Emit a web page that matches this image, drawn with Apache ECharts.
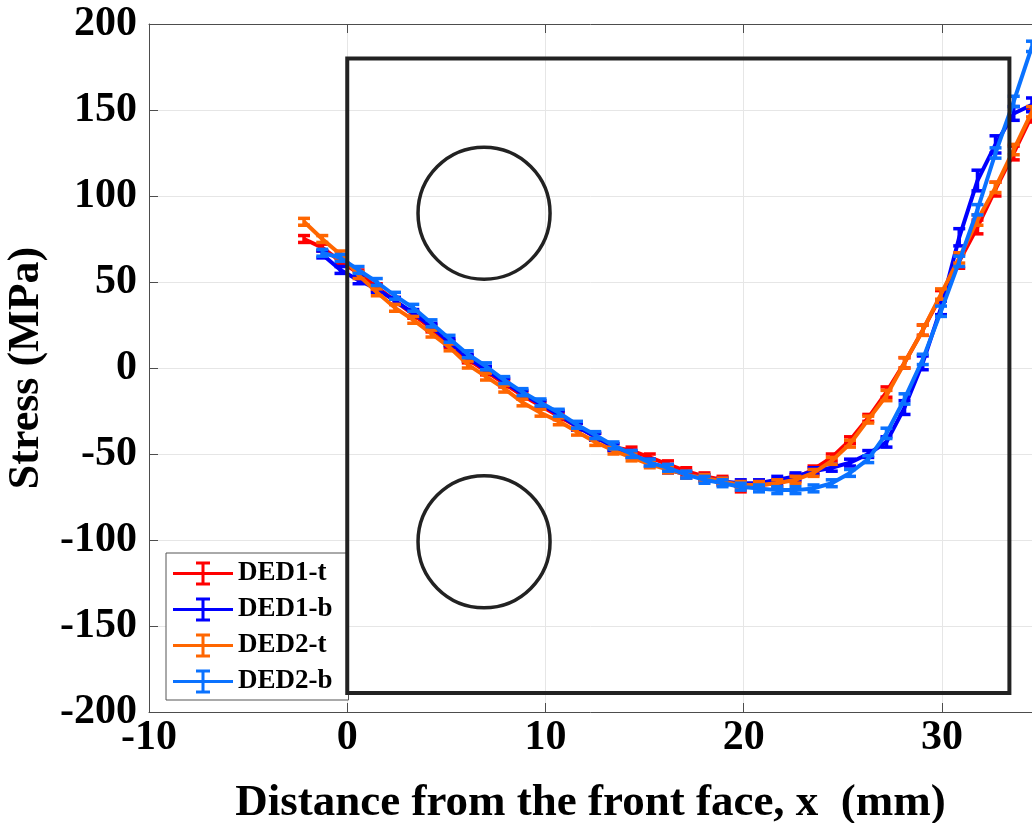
<!DOCTYPE html>
<html>
<head>
<meta charset="utf-8">
<script src="https://cdn.jsdelivr.net/npm/echarts@6/dist/echarts.min.js"></script>
<style>
  html, body { margin: 0; padding: 0; background: #fff; }
  #chart { width: 1032px; height: 823px; }
</style>
</head>
<body>
<div id="chart"></div>
<script>
// measurement positions along x (mm)
const xPos = [-2.18, -1.26, -0.34, 0.57, 1.49, 2.41, 3.33, 4.25, 5.16, 6.08,
  7.00, 7.92, 8.84, 9.75, 10.67, 11.59, 12.51, 13.43, 14.34, 15.26,
  16.18, 17.10, 18.02, 18.93, 19.85, 20.77, 21.69, 22.61, 23.52, 24.44,
  25.36, 26.28, 27.20, 28.11, 29.03, 29.95, 30.87, 31.79, 32.70, 33.62, 34.54];

// DED1-t and DED2-t start at the first position, the -b runs at the second
const ded1t = [75, 70, 62, 55, 47, 39, 31, 23, 14, 5, -2, -9, -16, -22, -28, -34, -40, -46, -48, -52,
  -56, -60, -63, -65, -70, -68, -67, -64, -59, -52, -42, -29, -14, 3, 22, 42, 62, 82, 104, 125, 147];
const ded1b = [66, 57, 51, 46, 39, 32, 24, 15, 6, -1, -8, -15, -21, -27, -34, -40, -46, -50, -55,
  -59, -62, -64, -66, -67, -67, -65, -63, -60, -58, -55, -50, -43, -23, 3, 35, 76, 109, 130, 148, 153];
const ded2t = [85, 75, 66, 54, 44, 35, 28, 20, 12, 2, -5, -12, -20, -26, -31, -37, -43, -48, -52, -56,
  -59, -62, -64, -66, -68, -68, -67, -65, -61, -54, -44, -30, -16, 3, 22, 43, 64, 86, 105, 127, 149];
const ded2b = [67, 64, 57, 50, 42, 35, 26, 17, 8, 1, -7, -14, -20, -26, -33, -39, -45, -50, -55,
  -58, -62, -65, -67, -69, -70, -71, -71, -70, -67, -61, -53, -38, -18, 5, 33, 62, 92, 125, 155, 187];

// error bar half-heights (MPa)
const err1t = [2, 2, 2, 2, 2, 2, 2, 2, 2, 2, 2, 2, 2, 2, 2, 2, 2, 2, 2, 2,
  2, 2, 2, 2, 2, 2, 2, 2, 2, 2, 2, 2, 3, 3, 3, 3, 4, 4, 4, 4, 4];
const err1b = [2, 2, 2, 2, 2, 2, 2, 2, 2, 2, 2, 2, 2, 2, 2, 2, 2, 2, 2,
  2, 2, 2, 2, 2, 2, 2, 2, 2, 2, 2, 2, 3, 4, 4, 4, 5, 6, 5, 4, 4];
const err2t = [2, 2, 2, 2, 2, 2, 2, 2, 2, 2, 2, 2, 2, 2, 2, 2, 2, 2, 2, 2,
  2, 2, 2, 2, 2, 2, 2, 2, 2, 2, 2, 2, 3, 3, 3, 3, 3, 3, 3, 3, 3];
const err2b = [2, 2, 2, 2, 2, 2, 2, 2, 2, 2, 2, 2, 2, 2, 2, 2, 2, 2, 2,
  2, 2, 2, 2, 2, 2, 2, 2, 2, 2, 2, 2, 3, 3, 3, 3, 3, 3, 3, 3, 3];

const seriesNames = ['DED1-t', 'DED1-b', 'DED2-t', 'DED2-b'];
const seriesColors = ['#ff0000', '#0000ff', '#ff6600', '#0a72ff'];

// specimen outline and the two holes
const outline = [[0, 180, 33.4, -189]];
const holes = [[6.9, 90, 3.33], [6.9, -101, 3.33]];

// the picture is cropped on the right, so the visible x range ends a bit before 35
const xTicks = { min: -10, max: 34.54, interval: 10 };
const yTicks = { min: -200, max: 200, interval: 50 };

const font = 'Liberation Serif';
const errIcon = 'path://M0,10.5H60V13.5H0Z M28.5,0H31.5V24H28.5Z M23,0H37V3H23Z M23,21H37V24H23Z';

function pairs(ys, offset) {
  return ys.map((y, i) => [xPos[i + offset], y]);
}
function errData(ys, es, offset) {
  return ys.map((y, i) => [xPos[i + offset], y - es[i], y + es[i]]);
}

function renderErr(params, api) {
  const lo = api.coord([api.value(0), api.value(1)]);
  const hi = api.coord([api.value(0), api.value(2)]);
  const w = 6;
  const style = { stroke: api.visual('color'), lineWidth: 3.5 };
  return {
    type: 'group',
    children: [
      { type: 'line', shape: { x1: lo[0], y1: lo[1], x2: hi[0], y2: hi[1] }, style },
      { type: 'line', shape: { x1: lo[0] - w, y1: lo[1], x2: lo[0] + w, y2: lo[1] }, style },
      { type: 'line', shape: { x1: hi[0] - w, y1: hi[1], x2: hi[0] + w, y2: hi[1] }, style }
    ]
  };
}

function renderRect(params, api) {
  const a = api.coord([api.value(0), api.value(1)]);
  const b = api.coord([api.value(2), api.value(3)]);
  return {
    type: 'rect',
    shape: { x: a[0], y: a[1], width: b[0] - a[0], height: b[1] - a[1] },
    style: { fill: 'none', stroke: '#222', lineWidth: 4 }
  };
}

function renderCircle(params, api) {
  const c = api.coord([api.value(0), api.value(1)]);
  const r = api.size([api.value(2), 0])[0];
  return {
    type: 'circle',
    shape: { cx: c[0], cy: c[1], r: r },
    style: { fill: 'none', stroke: '#222', lineWidth: 3.5 }
  };
}

const runs = [
  { ys: ded1t, es: err1t, off: 0 },
  { ys: ded1b, es: err1b, off: 1 },
  { ys: ded2t, es: err2t, off: 0 },
  { ys: ded2b, es: err2b, off: 1 }
];

const series = [];
runs.forEach((r, i) => {
  series.push({
    name: seriesNames[i],
    type: 'line',
    data: pairs(r.ys, r.off),
    showSymbol: false,
    clip: false,
    lineStyle: { color: seriesColors[i], width: 4 },
    itemStyle: { color: seriesColors[i] },
    z: 2 + i * 0.1
  });
  series.push({
    name: seriesNames[i],
    type: 'custom',
    renderItem: renderErr,
    data: errData(r.ys, r.es, r.off),
    clip: false,
    itemStyle: { color: seriesColors[i] },
    z: 2 + i * 0.1 + 0.05
  });
});
series.push({
  type: 'custom',
  renderItem: renderRect,
  data: outline,
  silent: true,
  z: 5
});
series.push({
  type: 'custom',
  renderItem: renderCircle,
  data: holes,
  silent: true,
  z: 5
});

const axisLine = { show: true, onZero: false, lineStyle: { color: '#4d4d4d', width: 1 } };
const axisTick = { show: true, inside: true, length: 9, lineStyle: { color: '#4d4d4d' } };

const chart = echarts.init(document.getElementById('chart'));
chart.setOption({
  animation: false,
  backgroundColor: '#fff',
  grid: { left: 149, top: 24, right: 0, bottom: 111, show: false, outerBoundsMode: 'none', containLabel: false },
  legend: {
    orient: 'vertical',
    left: 166,
    top: 553,
    padding: [7, 16, 5, 7],
    itemWidth: 60,
    itemHeight: 24,
    itemGap: 9,
    backgroundColor: '#fff',
    borderColor: '#555',
    borderWidth: 1,
    borderRadius: 0,
    textStyle: { fontFamily: font, fontWeight: 'bold', fontSize: 27, lineHeight: 24, color: '#000' },
    data: seriesNames.map((n) => ({ name: n, icon: errIcon }))
  },
  xAxis: [{
    type: 'value',
    min: xTicks.min, max: xTicks.max, interval: xTicks.interval,
    name: 'Distance from the front face, x  (mm)',
    nameLocation: 'middle',
    nameGap: 69,
    nameTextStyle: { fontFamily: font, fontWeight: 'bold', fontSize: 45, color: '#000' },
    axisLine: axisLine,
    axisTick: axisTick,
    axisLabel: { fontFamily: font, fontWeight: 'bold', fontSize: 42, color: '#000', margin: 5, showMaxLabel: false },
    splitLine: { show: true, lineStyle: { color: '#e6e6e6', width: 1 } }
  }, {
    type: 'value',
    position: 'top',
    min: xTicks.min, max: xTicks.max, interval: xTicks.interval,
    axisLine: axisLine,
    axisTick: axisTick,
    axisLabel: { show: false },
    splitLine: { show: false }
  }],
  yAxis: {
    type: 'value',
    min: yTicks.min, max: yTicks.max, interval: yTicks.interval,
    name: 'Stress (MPa)',
    nameLocation: 'middle',
    nameGap: 97,
    nameTextStyle: { fontFamily: font, fontWeight: 'bold', fontSize: 44, color: '#000' },
    axisLine: axisLine,
    axisTick: axisTick,
    axisLabel: { fontFamily: font, fontWeight: 'bold', fontSize: 42, color: '#000', margin: 12 },
    splitLine: { show: true, lineStyle: { color: '#e6e6e6', width: 1 } }
  },
  series: series
});
</script>
</body>
</html>
